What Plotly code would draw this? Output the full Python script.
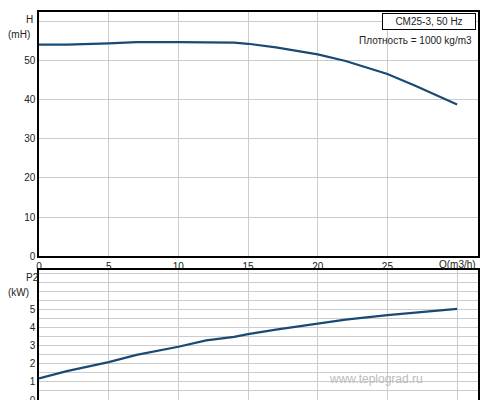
import plotly.graph_objects as go
from plotly.subplots import make_subplots

flow = [0, 2, 5, 7, 10, 12, 14, 15, 17, 20, 22, 25, 27, 30]
head = [54.0, 54.0, 54.3, 54.6, 54.6, 54.6, 54.5, 54.2, 53.3, 51.5, 49.8, 46.5, 43.5, 38.7]
power = [1.2, 1.6, 2.1, 2.5, 2.95, 3.3, 3.5, 3.65, 3.9, 4.25, 4.45, 4.7, 4.85, 5.05]
head_ticks = [0, 10, 20, 30, 40, 50]
power_ticks = [0, 1, 2, 3, 4, 5]

line = dict(color="#1a4a73", width=2.2)
fig = make_subplots(rows=2, cols=1)
fig.add_trace(go.Scatter(x=flow, y=head, mode="lines", line=line), row=1, col=1)
fig.add_trace(go.Scatter(x=flow, y=power, mode="lines", line=line), row=2, col=1)

font = dict(family="Liberation Sans, Arial", size=10, color="#222")
ax = dict(showline=True, linecolor="black", linewidth=1.5, mirror=True,
          gridcolor="#cccccc", gridwidth=1, zeroline=False, ticks="", tickfont=font)
fig.update_xaxes(ax, range=[0, 31.5], dtick=5)
fig.update_xaxes(row=1, col=1, tickvals=[0, 5, 10, 15, 20, 25])
fig.update_xaxes(row=2, col=1, showticklabels=False)
fig.update_yaxes(ax, row=1, col=1, range=[0, 62.3], tickvals=head_ticks, domain=[0.37, 1],
                 minor=dict(dtick=10, showgrid=True, gridcolor="#cccccc"))
fig.update_yaxes(ax, row=2, col=1, range=[0, 7.2], tickvals=power_ticks, domain=[0, 0.335],
                 minor=dict(dtick=0.5, showgrid=True, gridcolor="#cccccc"))

fig.add_annotation(text="H", xref="paper", yref="paper", x=-0.035, y=1.0,
                   showarrow=False, font=font, yanchor="top")
fig.add_annotation(text="(mH)", xref="paper", yref="paper", x=-0.075, y=0.962,
                   showarrow=False, font=font, yanchor="top", xanchor="left")
fig.add_annotation(text="P2", xref="paper", yref="paper", x=-0.035, y=0.335,
                   showarrow=False, font=font, yanchor="top")
fig.add_annotation(text="(kW)", xref="paper", yref="paper", x=-0.075, y=0.297,
                   showarrow=False, font=font, yanchor="top", xanchor="left")
fig.add_annotation(text="Q(m3/h)", xref="paper", yref="paper", x=1.0, y=0.368,
                   showarrow=False, font=font, yanchor="top", xanchor="right")
fig.add_annotation(text="CM25-3, 50 Hz", xref="paper", yref="paper", x=0.995, y=0.997,
                   showarrow=False, font=font, yanchor="top", xanchor="right",
                   bordercolor="black", borderwidth=1, bgcolor="white", borderpad=2, width=88)
fig.add_annotation(text="Плотность = 1000 kg/m3", xref="paper", yref="paper", x=0.99, y=0.945,
                   showarrow=False, font=font, yanchor="top", xanchor="right")
fig.add_annotation(text="www.teplograd.ru", xref="paper", yref="paper", x=0.88, y=0.03,
                   showarrow=False, font=dict(family="Liberation Sans, Arial", size=12,
                                              color="#bbbbbb"))

fig.update_layout(width=500, height=400, margin=dict(l=31, r=30, t=2, b=6),
                  plot_bgcolor="white", paper_bgcolor="white", showlegend=False)
fig.write_html("out.html")
